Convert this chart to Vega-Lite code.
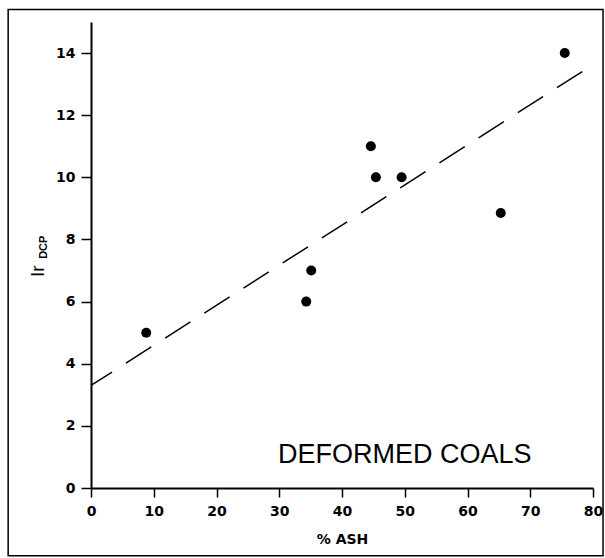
{
  "$schema": "https://vega.github.io/schema/vega-lite/v6.json",
  "autosize": {"type": "none"},
  "width": 502,
  "height": 466,
  "padding": {"left": 91, "top": 22, "right": 12, "bottom": 70},
  "background": "white",
  "config": {
    "view": {"stroke": null},
    "font": "Liberation Sans",
    "axis": {"domainColor": "black", "domainWidth": 2, "tickColor": "black", "tickWidth": 1.5, "labelColor": "black", "titleColor": "black", "grid": false, "labelFont": "DejaVu Sans", "labelFontWeight": "bold", "labelFontSize": 14, "titleFont": "DejaVu Sans"}
  },
  "datasets": {
    "pts": [
      {"ash": 8.8, "ir": 5.0},
      {"ash": 34.3, "ir": 6.0},
      {"ash": 35.1, "ir": 7.0},
      {"ash": 44.6, "ir": 11.0},
      {"ash": 45.4, "ir": 10.0},
      {"ash": 49.5, "ir": 10.0},
      {"ash": 65.3, "ir": 8.85},
      {"ash": 75.5, "ir": 14.0}
    ],
    "fit": [
      {"ash": 0, "ir": 3.3},
      {"ash": 78.4, "ir": 13.42}
    ],
    "labels": [
      {"lx": 50, "ly": 1.06, "txt": "DEFORMED COALS"}
    ],
    "frame": [
      {"x1": -13.2, "x2": 81.6, "y1": -2.18, "y2": 15.4}
    ]
  },
  "layer": [
    {
      "data": {"name": "frame"},
      "mark": {"type": "rect", "fill": null, "stroke": "black", "strokeWidth": 1.5, "clip": false},
      "encoding": {
        "x": {"field": "x1", "type": "quantitative", "scale": {"domain": [0, 80], "nice": false, "zero": false}},
        "x2": {"field": "x2"},
        "y": {"field": "y1", "type": "quantitative", "scale": {"domain": [0, 15], "nice": false, "zero": false}},
        "y2": {"field": "y2"}
      }
    },
    {
      "data": {"name": "fit"},
      "mark": {"type": "line", "color": "black", "strokeWidth": 1.5, "strokeDash": [30, 16.5], "strokeDashOffset": 5},
      "encoding": {
        "x": {"field": "ash", "type": "quantitative"},
        "y": {"field": "ir", "type": "quantitative"}
      }
    },
    {
      "data": {"name": "pts"},
      "mark": {"type": "circle", "color": "black", "opacity": 1, "size": 100},
      "encoding": {
        "x": {
          "field": "ash", "type": "quantitative",
          "scale": {"domain": [0, 80], "nice": false, "zero": false},
          "axis": {"values": [0, 10, 20, 30, 40, 50, 60, 70, 80], "tickSize": 9, "labelPadding": 7, "title": "%  ASH", "titleFontSize": 14, "titleFontWeight": "bold", "titlePadding": 14, "labelFlush": false}
        },
        "y": {
          "field": "ir", "type": "quantitative",
          "scale": {"domain": [0, 15], "nice": false, "zero": false},
          "axis": {"values": [0, 2, 4, 6, 8, 10, 12, 14], "tickSize": 10, "labelPadding": 6, "title": null, "labelFlush": false}
        }
      }
    },
    {
      "data": {"name": "labels"},
      "mark": {"type": "text", "fontSize": 27, "font": "Liberation Sans", "align": "center", "baseline": "middle", "color": "black", "clip": false},
      "encoding": {
        "x": {"field": "lx", "type": "quantitative"},
        "y": {"field": "ly", "type": "quantitative"},
        "text": {"field": "txt"}
      }
    },
    {
      "data": {"values": [{"lx": -8.45, "ly": 6.98, "txt": "Ir"}]},
      "mark": {"type": "text", "fontSize": 19, "angle": 270, "align": "center", "baseline": "middle", "color": "black", "clip": false},
      "encoding": {
        "x": {"field": "lx", "type": "quantitative"},
        "y": {"field": "ly", "type": "quantitative"},
        "text": {"field": "txt"}
      }
    },
    {
      "data": {"values": [{"lx": -7.5, "ly": 7.75, "txt": "DCP"}]},
      "mark": {"type": "text", "fontSize": 11, "fontWeight": "bold", "angle": 270, "align": "center", "baseline": "middle", "color": "black", "clip": false},
      "encoding": {
        "x": {"field": "lx", "type": "quantitative"},
        "y": {"field": "ly", "type": "quantitative"},
        "text": {"field": "txt"}
      }
    }
  ]
}
